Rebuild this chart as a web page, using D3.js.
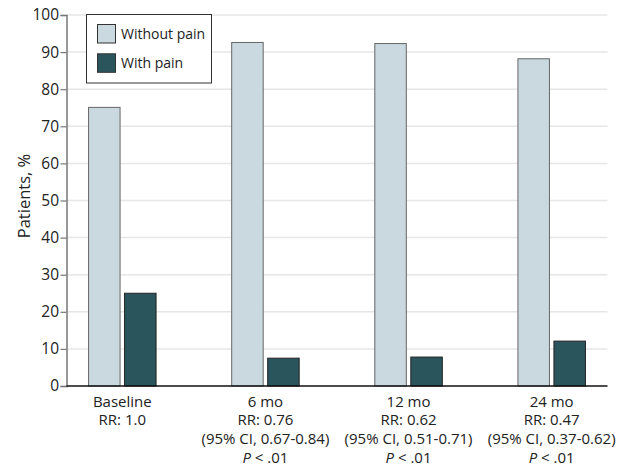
<!DOCTYPE html>
<html><head><meta charset="utf-8">
<script src="https://cdn.jsdelivr.net/npm/d3@7"></script>
<style>body{margin:0;background:#fff;} svg{display:block;font-family:"Open Sans","Liberation Sans",sans-serif;}</style>
</head><body>
<svg id="c" width="623" height="470"></svg>
<script>
const categories = ["Baseline","6 mo","12 mo","24 mo"];
const seriesNames = ["Without pain","With pain"];
const withoutPain = [75.1, 92.6, 92.3, 88.2];
const withPain = [25.0, 7.5, 7.8, 12.1];
const subLabels = [
  ["RR: 1.0"],
  ["RR: 0.76","(95% CI, 0.67-0.84)"],
  ["RR: 0.62","(95% CI, 0.51-0.71)"],
  ["RR: 0.47","(95% CI, 0.37-0.62)"]
];
const pLabels = [false, true, true, true];
const yTicks = [0,10,20,30,40,50,60,70,80,90,100];

const colors = ["#cad8df","#2b555d"];
const svg = d3.select("#c");
const m = {l:66.5, r:607.5, t:15, b:386};
const x = d3.scalePoint().domain(categories).range([m.l, m.r]).padding(0.39);
const y = d3.scaleLinear().domain([0,100]).range([m.b, m.t]);
const bw = 31.5, gap = 4.5;

// grid
svg.append("g").selectAll("line").data(yTicks.filter(d=>d>0)).join("line")
  .attr("x1", m.l).attr("x2", m.r).attr("y1", d=>y(d)).attr("y2", d=>y(d))
  .attr("stroke","#e6e6e6").attr("stroke-width",1.5);

// y axis
const ya = svg.append("g").attr("transform",`translate(${m.l},0)`)
  .call(d3.axisLeft(y).tickValues(yTicks).tickSize(6).tickPadding(1.5));
ya.select(".domain").attr("stroke","#777").attr("stroke-width",1.5);
ya.selectAll(".tick line").attr("stroke","#777").attr("stroke-width",1.2);
ya.selectAll(".tick text").attr("font-size",15.5).attr("fill","#222").attr("font-family","Open Sans, sans-serif");

// bars
const series = [withoutPain, withPain];
series.forEach((vals, si) => {
  svg.append("g").selectAll("rect").data(categories).join("rect")
    .attr("x", (c) => x(c) + (si===0 ? -(bw + gap/2) : gap/2))
    .attr("y", (c,i) => y(vals[i]))
    .attr("width", bw)
    .attr("height", (c,i) => y(0) - y(vals[i]))
    .attr("fill", colors[si])
    .attr("stroke", si===0 ? "#666" : "#222")
    .attr("stroke-width", 1);
});

// x axis line
svg.append("line").attr("x1", m.l).attr("x2", m.r).attr("y1", y(0)).attr("y2", y(0))
  .attr("stroke","#111").attr("stroke-width",1.5);

// x labels
const xl = svg.append("g").attr("font-size",15).attr("fill","#222").attr("text-anchor","middle");
categories.forEach((c,i) => {
  const lines = [c].concat(subLabels[i]);
  lines.forEach((t,j) => {
    xl.append("text").attr("x", x(c)).attr("y", 406.5 + j*18.8).attr("fill","#222").text(t);
  });
  if (pLabels[i]) {
    const t = xl.append("text").attr("x", x(c)).attr("y", 463).attr("fill","#222");
    t.append("tspan").attr("font-style","italic").text("P");
    t.append("tspan").text(" < .01");
  }
});

// y label
svg.append("text").attr("transform","translate(30,196) rotate(-90)")
  .attr("text-anchor","middle").attr("font-size",16.5).attr("fill","#222").text("Patients, %");

// legend
const lg = svg.append("g");
lg.append("rect").attr("x",86.5).attr("y",14.5).attr("width",125).attr("height",68.5)
  .attr("fill","#fff").attr("stroke","#333").attr("stroke-width",1);
seriesNames.forEach((n,i) => {
  lg.append("rect").attr("x",97.5).attr("y",24.5 + i*29.3).attr("width",18).attr("height",18.5)
    .attr("fill",colors[i]).attr("stroke","#333").attr("stroke-width",1);
  lg.append("text").attr("x",121).attr("y",39 + i*29.3).attr("font-size",14).attr("fill","#222").text(n);
});
</script>
</body></html>
